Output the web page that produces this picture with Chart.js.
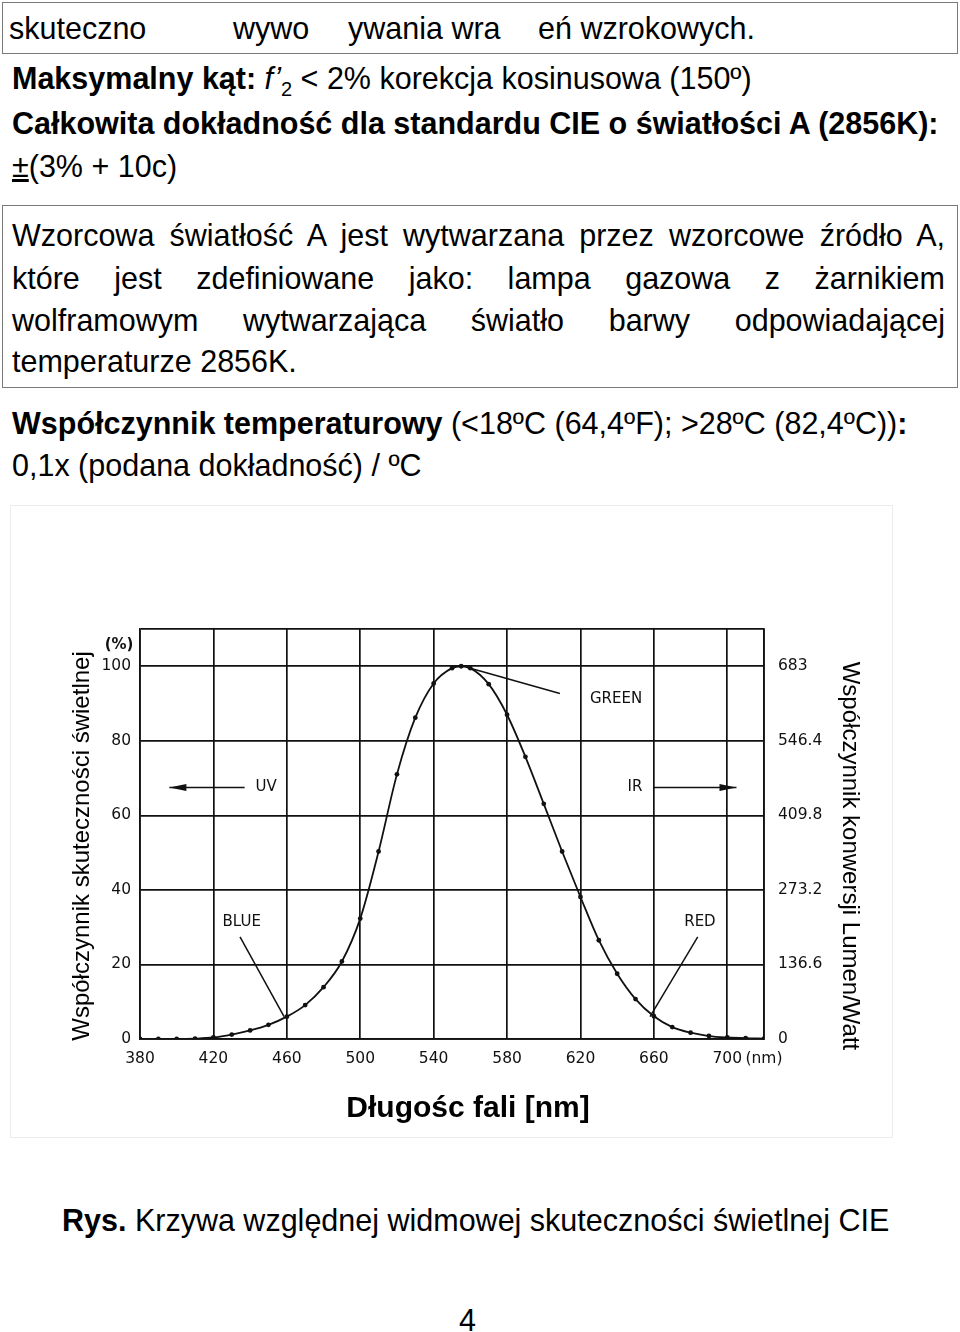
<!DOCTYPE html>
<html>
<head>
<meta charset="utf-8">
<script src="https://cdn.jsdelivr.net/npm/chart.js@4.4.0/dist/chart.umd.min.js"></script>
<style>
body{margin:0;background:#fff;width:960px;height:1332px;position:relative;overflow:hidden;font-family:"Liberation Sans",Arial,sans-serif;color:#000}
.ln{position:absolute;left:12px;font-size:30.5px;line-height:36px;white-space:nowrap}
.ln span.a{position:absolute;top:0}
.box{position:absolute;left:2px;width:954px;border:1.5px solid #7a7a7a}
.j{width:933px;text-align:justify;text-align-last:justify}
#frame{position:absolute;left:10px;top:505px;width:883px;height:633px;border:1px solid #ececec;box-sizing:border-box}
#wrap{position:absolute;left:10px;top:505px;width:883px;height:633px}
</style>
</head>
<body>
<div class="box" style="top:2px;height:50px"></div>
<div class="ln" style="top:10px;left:0">
  <span class="a" style="left:9px">skuteczno</span>
  <span class="a" style="left:233px">wywo</span>
  <span class="a" style="left:348px">ywania wra</span>
  <span class="a" style="left:538px">eń wzrokowych.</span>
</div>
<div class="ln" style="top:60px"><b>Maksymalny kąt:</b> <i>f’</i><sub style="font-size:20px">2</sub> &lt; 2% korekcja kosinusowa (150º)</div>
<div class="ln" style="top:105px"><b>Całkowita dokładność dla standardu CIE o światłości A (2856K):</b></div>
<div class="ln" style="top:148px"><u>±</u>(3% + 10c)</div>

<div class="box" style="top:205px;height:181px"></div>
<div class="ln j" style="top:217px">Wzorcowa światłość A jest wytwarzana przez wzorcowe źródło A,</div>
<div class="ln j" style="top:260px">które jest zdefiniowane jako: lampa gazowa z żarnikiem</div>
<div class="ln j" style="top:302px">wolframowym wytwarzająca światło barwy odpowiadającej</div>
<div class="ln" style="top:343px">temperaturze 2856K.</div>

<div class="ln" style="top:405px"><b>Współczynnik temperaturowy</b> (&lt;18ºC (64,4ºF); &gt;28ºC (82,4ºC))<b>:</b></div>
<div class="ln" style="top:447px">0,1x (podana dokładność) / ºC</div>

<div id="frame"></div>
<div id="wrap"><canvas id="chart" width="883" height="633"></canvas></div>

<div class="ln" style="top:1202px;left:62px"><b>Rys.</b> Krzywa względnej widmowej skuteczności świetlnej CIE</div>
<div class="ln" style="top:1302px;left:459px">4</div>

<script>
// wavelength [nm] and relative luminous efficiency [%]
const wavelengths = [380, 390, 400, 410, 420, 430, 440, 450, 460, 470, 480, 490, 500, 510, 520, 530, 540, 550, 555,
  560, 570, 580, 590, 600, 610, 620, 630, 640, 650, 660, 670, 680, 690, 700, 710, 720];
const efficiency = [0, 0, 0, 0.1, 0.4, 1.2, 2.3, 3.8, 6, 9.1, 13.9, 20.8, 32.3, 50.3, 71, 86.2, 95.4, 99.5, 100,
  99.5, 95.2, 87, 75.7, 63.1, 50.3, 38.1, 26.5, 17.5, 10.7, 6.1, 3.2, 1.7, 0.8, 0.4, 0.2, 0.1];

const xTicks = [380, 420, 460, 500, 540, 580, 620, 660, 700, 720];
const xTickLabels = ['380', '420', '460', '500', '540', '580', '620', '660', '700', '(nm)'];
const yTicks = [0, 20, 40, 60, 80, 100, 110];
const yTickLabels = ['0', '20', '40', '60', '80', '100', ''];
const lumenTickLabels = ['0', '136.6', '273.2', '409.8', '546.4', '683', ''];

const ink = '#111';
const tickFont = {family: 'DejaVu Sans', size: 15.5};

// notes drawn on the plot, placed in data units
const arrowNotes = [
  {text: 'UV', at: [448.7, 67.5], from: [437, 67.5], to: [396, 67.5]},
  {text: 'IR', at: [649.7, 67.5], from: [659.5, 67.5], to: [705, 67.5]}
];
const leaderNotes = [
  {text: 'GREEN', at: [639.4, 91.3], from: [608.8, 92.7], to: [557.6, 99.8]},
  {text: 'BLUE', at: [435.4, 31.4], from: [434.5, 27.4], to: [458.5, 6]},
  {text: 'RED', at: [685.1, 31.4], from: [683.9, 27.4], to: [657.9, 6]}
];

const notesPlugin = {
  id: 'notes',
  afterDraw(chart) {
    const {ctx, chartArea} = chart;
    const x = chart.scales.x, y = chart.scales.y;
    const px = p => [x.getPixelForValue(p[0]), y.getPixelForValue(p[1])];
    ctx.save();
    ctx.fillStyle = ink;
    ctx.strokeStyle = ink;
    ctx.lineWidth = 1.5;
    ctx.font = '15px "DejaVu Sans"';
    ctx.textAlign = 'center';
    ctx.textBaseline = 'middle';

    leaderNotes.forEach(n => {
      const a = px(n.from), b = px(n.to), t = px(n.at);
      ctx.beginPath(); ctx.moveTo(a[0], a[1]); ctx.lineTo(b[0], b[1]); ctx.stroke();
      ctx.fillText(n.text, t[0], t[1]);
    });

    arrowNotes.forEach(n => {
      const a = px(n.from), b = px(n.to), t = px(n.at);
      const dir = Math.sign(b[0] - a[0]);
      ctx.beginPath(); ctx.moveTo(a[0], a[1]); ctx.lineTo(b[0], b[1]); ctx.stroke();
      ctx.beginPath();
      ctx.moveTo(b[0], b[1]);
      ctx.lineTo(b[0] - dir * 17, b[1] - 3.5);
      ctx.lineTo(b[0] - dir * 17, b[1] + 3.5);
      ctx.closePath(); ctx.fill();
      ctx.fillText(n.text, t[0], t[1]);
    });

    // unit label above the left axis
    ctx.font = 'bold 15px "DejaVu Sans"';
    ctx.fillText('(%)', chartArea.left - 21, y.getPixelForValue(105.6));

    // axis titles
    ctx.fillStyle = '#000';
    ctx.font = '24px "Liberation Sans"';
    ctx.textBaseline = 'alphabetic';
    ctx.save();
    ctx.translate(79, 341);
    ctx.rotate(-Math.PI / 2);
    ctx.fillText('Współczynnik skuteczności świetlnej', 0, 0);
    ctx.restore();
    ctx.save();
    ctx.translate(833, 351);
    ctx.rotate(Math.PI / 2);
    ctx.fillText('Współczynnik konwersji Lumen/Watt', 0, 0);
    ctx.restore();
    ctx.font = 'bold 30px "Liberation Sans"';
    ctx.fillText('Długośc fali [nm]', 458, 612);
    ctx.restore();
  }
};

const grid = {color: ink, lineWidth: 1.7, drawTicks: false};
const border = {color: ink, width: 1.7};

new Chart(document.getElementById('chart').getContext('2d'), {
  type: 'line',
  data: {
    datasets: [{
      data: wavelengths.map((w, i) => ({x: w, y: efficiency[i]})),
      borderColor: ink,
      borderWidth: 1.8,
      pointRadius: 2.4,
      pointBackgroundColor: ink,
      pointBorderWidth: 0,
      cubicInterpolationMode: 'monotone',
      fill: false
    }]
  },
  options: {
    responsive: false,
    animation: false,
    layout: {padding: {top: 124, left: 0, right: 0, bottom: 0}},
    plugins: {legend: {display: false}, tooltip: {enabled: false}},
    scales: {
      x: {
        type: 'linear', min: 380, max: 720,
        afterBuildTicks: s => { s.ticks = xTicks.map(v => ({value: v})); },
        afterFit: s => { s.height = 99; },
        ticks: {autoSkip: false, maxRotation: 0, padding: 11, color: ink, font: tickFont,
          callback: (v, i) => xTickLabels[i]},
        grid: grid, border: border
      },
      y: {
        position: 'left', min: 0, max: 110,
        afterBuildTicks: s => { s.ticks = yTicks.map(v => ({value: v})); },
        afterFit: s => { s.width = 130; },
        ticks: {padding: 9, color: ink, font: tickFont, callback: (v, i) => yTickLabels[i]},
        grid: grid, border: border
      },
      y2: {
        position: 'right', min: 0, max: 110,
        afterBuildTicks: s => { s.ticks = yTicks.map(v => ({value: v})); },
        afterFit: s => { s.width = 129; },
        ticks: {padding: 14, color: ink, font: tickFont, callback: (v, i) => lumenTickLabels[i]},
        grid: {display: false, drawTicks: false}, border: border
      }
    }
  },
  plugins: [notesPlugin]
});
</script>
</body>
</html>
